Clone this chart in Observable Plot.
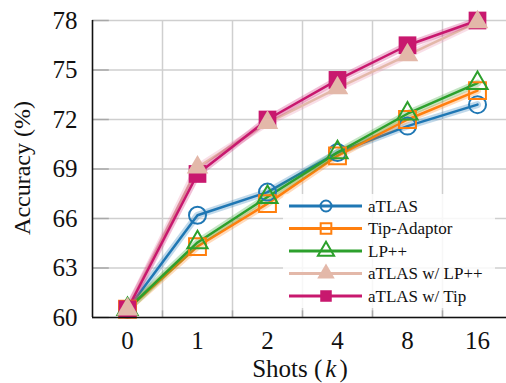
<!DOCTYPE html>
<html><head><meta charset="utf-8">
<script src="https://cdn.jsdelivr.net/npm/d3@7"></script>
<script src="https://cdn.jsdelivr.net/npm/@observablehq/plot@0.6"></script>
<style>body{margin:0;background:#fff} #chart svg{overflow:visible} #chart svg text{font-family:"Liberation Serif","Times New Roman","DejaVu Serif",serif !important}</style>
</head><body><div id="chart"></div>
<script>
const shots = ["0", "1", "2", "4", "8", "16"];
const seriesNames = ["aTLAS", "Tip-Adaptor", "LP++", "aTLAS w/ LP++", "aTLAS w/ Tip"];
const atlas = [60.5, 66.2, 67.6, 70.0, 71.6, 72.9];
const tipAdaptor = [60.5, 64.3, 66.9, 69.8, 72.0, 73.75];
const lpPlusPlus = [60.5, 64.55, 67.3, 70.0, 72.35, 74.2];
const atlasWithLP = [60.5, 69.1, 71.8, 73.9, 75.9, 77.9];
const atlasWithTip = [60.5, 68.7, 72.0, 74.4, 76.5, 78.0];
const yTicks = [60, 63, 66, 69, 72, 75, 78];

const seriesValues = [atlas, tipAdaptor, lpPlusPlus, atlasWithLP, atlasWithTip];
const colors = ["#1f77b4", "#ff7f0e", "#2ca02c", "#e3b8a9", "#c8186e"];
const haloColors = ["#1f77b4", "#ff7f0e", "#2ca02c", "#e88aa8", "#c8186e"];
const symbols = ["circle", "square", "triangle", "triangle", "square"];
const filled = [false, false, false, true, true];
const radii = [8.5, 9.5, 7.5, 8, 10];

const rows = seriesValues.map((vals, i) => vals.map((v, j) => ({series: seriesNames[i], idx: j, acc: v})));
const xIdx = shots.map((_, i) => i);
const xGrid = [0.5, 1.5, 2.5, 3.5, 4.5];
const serif = "Liberation Serif, Times New Roman, DejaVu Serif, serif";

const marks = [
  Plot.ruleY(yTicks, {y: d => d, stroke: "#cfcfcf", strokeWidth: 1.5}),
  Plot.ruleX(xGrid, {x: d => d, stroke: "#cfcfcf", strokeWidth: 1.5}),
  Plot.ruleY(yTicks, {y: d => d, x1: -0.5, x2: -0.26, stroke: "#a8a8a8", strokeWidth: 1.5}),
  Plot.ruleX(xGrid, {x: d => d, y1: 60, y2: 60.4, stroke: "#a8a8a8", strokeWidth: 1.5})
];
rows.forEach((r, i) => {
  marks.push(Plot.line(r, {x: "idx", y: "acc", stroke: haloColors[i], strokeWidth: 7, strokeOpacity: 0.28}));
  marks.push(Plot.line(r, {x: "idx", y: "acc", stroke: colors[i], strokeWidth: 2.5}));
});
[0, 1, 2, 4, 3].forEach(i => {
  marks.push(Plot.dot(rows[i], {
    x: "idx", y: "acc", symbol: symbols[i], r: radii[i],
    stroke: filled[i] ? "none" : colors[i], strokeWidth: 2,
    fill: filled[i] ? colors[i] : "none"
  }));
});
marks.push(
  Plot.ruleX([-0.5], {x: d => d, y1: 60, y2: 78, stroke: "#111", strokeWidth: 1.6}),
  Plot.ruleY([60], {y: d => d, x1: -0.5, x2: 5.5, stroke: "#111", strokeWidth: 1.6}),
  Plot.axisY(yTicks, {tickSize: 0, tickPadding: 15, fontSize: 25, fontFamily: serif, fill: "#111", label: null}),
  Plot.axisX(xIdx, {tickSize: 0, tickPadding: 14, fontSize: 25, fontFamily: serif, fill: "#111", tickFormat: i => shots[i], label: null})
);

const chart = Plot.plot({
  width: 506, height: 383,
  marginLeft: 92, marginRight: 0, marginTop: 20, marginBottom: 66,
  x: {domain: [-0.5, 5.5], range: [92, 512]},
  y: {domain: [60, 78], range: [317, 20]},
  style: {fontFamily: serif, background: "#fff"},
  marks
});
document.getElementById("chart").append(chart);

const svg = d3.select(chart);
svg.append("text")
  .attr("transform", "translate(24,168) rotate(-90)")
  .attr("text-anchor", "middle").attr("dominant-baseline", "middle")
  .attr("font-family", serif)
  .attr("font-size", 24).attr("fill", "#111")
  .text("Accuracy (%)");
const xl = svg.append("text")
  .attr("x", 300).attr("y", 377)
  .attr("text-anchor", "middle").attr("font-family", serif)
  .attr("font-size", 25).attr("fill", "#111");
xl.append("tspan").text("Shots (");
xl.append("tspan").attr("font-style", "italic").attr("dx", 3).text("k");
xl.append("tspan").attr("dx", 3).text(")");

const lg = svg.append("g").attr("font-family", serif);
lg.append("rect").attr("x", 283).attr("y", 194).attr("width", 212).attr("height", 114)
  .attr("rx", 4).attr("fill", "#fff").attr("fill-opacity", 0.82);
const symMap = {circle: d3.symbolCircle, square: d3.symbolSquare, triangle: d3.symbolTriangle};
const legendR = [5.5, 6, 6, 6.5, 6.5];
seriesNames.forEach((name, i) => {
  const y = 206 + i * 22.5;
  lg.append("line").attr("x1", 289).attr("x2", 362).attr("y1", y).attr("y2", y)
    .attr("stroke", colors[i]).attr("stroke-width", 2.8);
  lg.append("path")
    .attr("d", d3.symbol(symMap[symbols[i]], Math.PI * legendR[i] * legendR[i])())
    .attr("transform", `translate(326,${y})`)
    .attr("fill", filled[i] ? colors[i] : "none")
    .attr("stroke", colors[i]).attr("stroke-width", filled[i] ? 0 : 2);
  lg.append("text").attr("x", 368).attr("y", y).attr("dominant-baseline", "central")
    .attr("text-anchor", "start")
    .attr("font-size", 17).attr("fill", "#111").text(name);
});
</script>
</body></html>
